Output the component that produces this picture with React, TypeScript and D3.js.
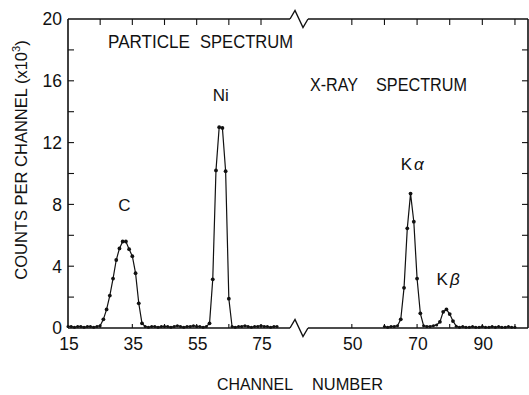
import React from "react";
import * as d3 from "d3";

// ---- data (counts per channel, x10^3) ----
const particleStart = 15;
const particleCounts = [
  // 15-25 baseline
  0.1, 0.1, 0.05, 0.1, 0.1, 0.05, 0.1, 0.1, 0.05, 0.1, 0.15,
  // 26-38 C peak
  0.56, 1.2, 2.1, 3.2, 4.4, 5.15, 5.6, 5.6, 5.1, 4.65, 3.55, 1.6, 0.3,
  // 39-58 baseline
  0.1, 0.05, 0.1, 0.1, 0.05, 0.1, 0.1, 0.1, 0.05, 0.1, 0.15, 0.1, 0.05, 0.1, 0.1, 0.15, 0.1, 0.1, 0.05, 0.1,
  // 59-66 Ni peak
  0.3, 3.15, 10.2, 13.0, 12.95, 10.15, 1.9, 0.1,
  // 67-80 baseline
  0.05, 0.1, 0.1, 0.15, 0.1, 0.05, 0.1, 0.1, 0.15, 0.1, 0.1, 0.05, 0.1, 0.1,
];
const xrayStart = 60;
const xrayCounts = [
  // 60-64
  0.1, 0.05, 0.1, 0.1, 0.15,
  // 65-72 K alpha
  0.56, 2.6, 6.45, 8.7, 6.88, 3.2, 0.95, 0.15,
  // 73-76
  0.1, 0.1, 0.15, 0.2,
  // 77-82 K beta
  0.4, 1.05, 1.2, 0.9, 0.45, 0.12,
  // 83-100
  0.05, 0.1, 0.05, 0.05, 0.1, 0.05, 0.05, 0.1, 0.05, 0.05, 0.1, 0.05, 0.1, 0.05, 0.05, 0.1, 0.05, 0.05,
];
const yTicks = [0, 4, 8, 12, 16, 20];
const yMinorTicks = [2, 4, 6, 8, 10, 12, 14, 16, 18];
const leftTickLabels = [15, 35, 55, 75];
const rightTickLabels = [50, 70, 90];
const leftMinorTicks = [25, 35, 45, 55, 65, 75];
const rightMinorTicks = [50, 60, 70, 80, 90, 100];
const peakLabels = [
  { panel: "left", ch: 32.5, v: 7.6, text: "C", sub: "" },
  { panel: "left", ch: 62.5, v: 14.7, text: "Ni", sub: "" },
  { panel: "right", ch: 68.5, v: 10.2, text: "K", sub: "α" },
  { panel: "right", ch: 79.5, v: 2.8, text: "K", sub: "β" },
];

const W = 529;
const H = 395;
const FONT = "'Liberation Sans', Arial, Helvetica, sans-serif";

export default function App() {
  const xL = d3.scaleLinear().domain([15, 86.5]).range([68, 298]);
  const xR = d3.scaleLinear().domain([33.5, 104]).range([298, 528]);
  const y = d3.scaleLinear().domain([0, 20]).range([328, 19]);

  const left = particleCounts.map((v, i) => ({ ch: particleStart + i, v }));
  const right = xrayCounts.map((v, i) => ({ ch: xrayStart + i, v }));

  const lineL = d3.line<{ ch: number; v: number }>().x((d) => xL(d.ch)).y((d) => y(d.v));
  const lineR = d3.line<{ ch: number; v: number }>().x((d) => xR(d.ch)).y((d) => y(d.v));

  const x0 = xL.range()[0];
  const xB = xL.range()[1];
  const x1 = xR.range()[1];
  const yT = y(20);
  const yB = y(0);

  const breakPath = (yy: number) =>
    `M${xB - 8},${yy} L${xB - 3},${yy - 8.5} L${xB + 5},${yy + 8.5} L${xB + 10},${yy}`;

  const rOf = (v: number) => (v < 0.25 ? 1.5 : 1.9);

  return (
    <svg
      width={W}
      height={H}
      style={{ position: "absolute", left: 0, top: 0, background: "#fff" }}
      fontFamily={FONT}
    >
      <rect x={0} y={0} width={W} height={H} fill="#fff" />
      {/* frame */}
      <g stroke="#111" strokeWidth={1.6} fill="none">
        <line x1={x0} y1={yT} x2={xB - 8} y2={yT} />
        <line x1={xB + 10} y1={yT} x2={x1} y2={yT} />
        <line x1={x0} y1={yB} x2={xB - 8} y2={yB} />
        <line x1={xB + 10} y1={yB} x2={x1} y2={yB} />
        <line x1={x0} y1={yT} x2={x0} y2={yB} />
        <line x1={x1} y1={yT} x2={x1} y2={yB} />
        <path d={breakPath(yT)} strokeWidth={1.4} />
        <path d={breakPath(yB)} strokeWidth={1.4} />
      </g>
      {/* ticks */}
      <g stroke="#111" strokeWidth={1.1}>
        {yMinorTicks.map((t) => (
          <g key={"ym" + t}>
            <line x1={x0} x2={x0 + 6} y1={y(t)} y2={y(t)} />
            <line x1={x1} x2={x1 - 6} y1={y(t)} y2={y(t)} />
          </g>
        ))}
        {leftMinorTicks.map((t) => (
          <g key={"lm" + t}>
            <line x1={xL(t)} x2={xL(t)} y1={yT} y2={yT + 6} />
            <line x1={xL(t)} x2={xL(t)} y1={yB} y2={yB - 4} />
          </g>
        ))}
        {rightMinorTicks.map((t) => (
          <g key={"rm" + t}>
            <line x1={xR(t)} x2={xR(t)} y1={yT} y2={yT + 6} />
            <line x1={xR(t)} x2={xR(t)} y1={yB} y2={yB - 4} />
          </g>
        ))}
      </g>
      {/* data lines */}
      <path d={lineL(left) || ""} fill="none" stroke="#111" strokeWidth={1.2} />
      <path d={lineR(right) || ""} fill="none" stroke="#111" strokeWidth={1.2} />
      {left.map((d) => (
        <circle key={"l" + d.ch} cx={xL(d.ch)} cy={y(d.v)} r={rOf(d.v)} fill="#111" />
      ))}
      {right.map((d) => (
        <circle key={"r" + d.ch} cx={xR(d.ch)} cy={y(d.v)} r={rOf(d.v)} fill="#111" />
      ))}
      {/* y tick labels */}
      <g fontSize={17.5} fill="#111" textAnchor="end">
        {yTicks.map((t) => (
          <text key={"yl" + t} x={62} y={y(t)} dy="0.36em">
            {t}
          </text>
        ))}
      </g>
      {/* x tick labels */}
      <g fontSize={17.5} fill="#111" textAnchor="middle">
        {leftTickLabels.map((t) => (
          <text key={"xl" + t} x={xL(t) + 1} y={350}>
            {t}
          </text>
        ))}
        {rightTickLabels.map((t) => (
          <text key={"xr" + t} x={xR(t) + 1} y={350}>
            {t}
          </text>
        ))}
      </g>
      {/* titles */}
      <g fontSize={18} fill="#111">
        <text x={108} y={48} textLength={82} lengthAdjust="spacingAndGlyphs">PARTICLE</text>
        <text x={200} y={48} textLength={93} lengthAdjust="spacingAndGlyphs">SPECTRUM</text>
        <text x={310} y={91} textLength={48} lengthAdjust="spacingAndGlyphs">X-RAY</text>
        <text x={376} y={91} textLength={91} lengthAdjust="spacingAndGlyphs">SPECTRUM</text>
      </g>
      <g fontSize={17} fill="#111">
        <text x={217} y={390} textLength={76} lengthAdjust="spacingAndGlyphs">CHANNEL</text>
        <text x={312} y={390} textLength={71} lengthAdjust="spacingAndGlyphs">NUMBER</text>
      </g>
      {/* peak labels */}
      <g fontSize={17} fill="#111" textAnchor="middle">
        {peakLabels.map((p, i) => {
          const px = p.panel === "left" ? xL(p.ch) : xR(p.ch);
          return (
            <text key={"pk" + i} x={px} y={y(p.v)}>
              {p.text}
              {p.sub ? (
                <tspan fontStyle="italic" dx={2}>
                  {p.sub}
                </tspan>
              ) : null}
            </text>
          );
        })}
      </g>
      {/* y axis label */}
      <text
        transform="translate(27,160) rotate(-90)"
        fontSize={16.5}
        fill="#111"
        textAnchor="middle"
      >
        COUNTS PER CHANNEL (x10
        <tspan fontSize={11} dy={-7}>3</tspan>
        <tspan dy={7}>)</tspan>
      </text>
    </svg>
  );
}
